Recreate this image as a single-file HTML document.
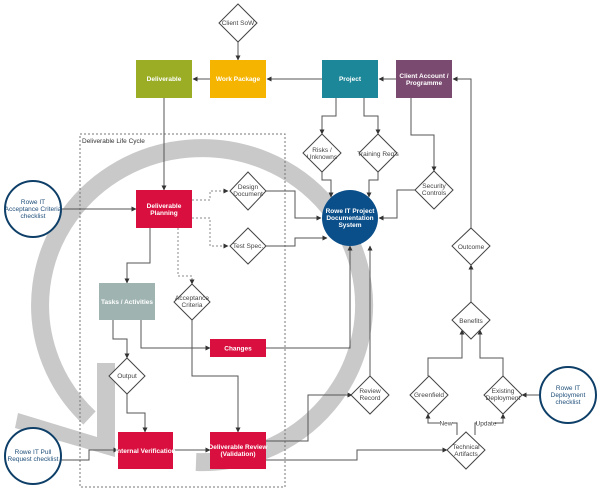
<!DOCTYPE html>
<html><head><meta charset="utf-8"><style>
body{margin:0;background:#fff;}
svg{display:block;font-family:"Liberation Sans",sans-serif;}
.ln{fill:none;stroke:#555;stroke-width:1;}
.dt{fill:none;stroke:#888;stroke-width:1;stroke-dasharray:2,2;}
.dm{fill:#fff;stroke:#444;stroke-width:1;}
.t{font-size:6.5px;fill:#444;text-anchor:middle;}
.w{font-size:6.5px;fill:#fff;font-weight:bold;text-anchor:middle;}
.b{font-size:6.5px;fill:#1f4f7a;text-anchor:middle;}
</style></head><body>
<svg width="602" height="502" viewBox="0 0 602 502">
<defs><marker id="a" markerWidth="5" markerHeight="5" refX="4.5" refY="2.5" orient="auto"><path d="M0,0 L5,2.5 L0,5z" fill="#333"/></marker></defs>
<!-- cycle arc -->
<g fill="#c9c9c9">
<path d="M196,462 A162,157 0 1 0 89.5,418" fill="none" stroke="#c9c9c9" stroke-width="18"/>
<polygon points="97,363 115,363 115,457 15,428 18,413 97,437"/>
</g>
<rect x="80" y="134" width="205" height="353" fill="none" stroke="#777" stroke-dasharray="2,2"/>
<text x="82" y="143" font-size="6.5" fill="#333">Deliverable Life Cycle</text>
<!-- connectors -->
<g>
<path class="ln" marker-end="url(#a)" d="M238,42 V60"/>
<path class="ln" marker-end="url(#a)" d="M210,79 H193"/>
<path class="ln" marker-end="url(#a)" d="M322,79 H267"/>
<path class="ln" marker-end="url(#a)" d="M396,79 H379"/>
<path class="ln" marker-end="url(#a)" d="M164,98 V190"/>
<path class="ln" marker-end="url(#a)" d="M61,209 H136"/>
<path class="dt" marker-end="url(#a)" d="M192,200 H210 V191 H228"/>
<path class="dt" marker-end="url(#a)" d="M192,218 H210 V246 H228"/>
<path class="dt" marker-end="url(#a)" d="M178,228 V276 H192 V284"/>
<path class="ln" marker-end="url(#a)" d="M150,228 V263 H127 V283"/>
<path class="ln" marker-end="url(#a)" d="M266,191 H295 V218 H321"/>
<path class="ln" marker-end="url(#a)" d="M266,246 H295 V238 H327"/>
<path class="ln" marker-end="url(#a)" d="M336,98 V116 H322 V134"/>
<path class="ln" marker-end="url(#a)" d="M364,98 V116 H378 V134"/>
<path class="ln" marker-end="url(#a)" d="M322,172 V180 H331 V197"/>
<path class="ln" marker-end="url(#a)" d="M378,172 V180 H369 V197"/>
<path class="ln" marker-end="url(#a)" d="M411,98 V135 H434 V171"/>
<path class="ln" marker-end="url(#a)" d="M415,190 H397 V218 H379"/>
<path class="ln" marker-end="url(#a)" d="M471,228 V79 H453"/>
<path class="ln" marker-end="url(#a)" d="M471,302 V265"/>
<path class="ln" marker-end="url(#a)" d="M428,376 V358 H462 V330"/>
<path class="ln" marker-end="url(#a)" d="M503,376 V358 H480 V330"/>
<path class="ln" marker-end="url(#a)" d="M540,395 H522"/>
<path class="ln" marker-end="url(#a)" d="M457,435 V423 H428 V414"/>
<path class="ln" marker-end="url(#a)" d="M475,435 V423 H503 V414"/>
<path class="ln" marker-end="url(#a)" d="M113,320 V339 H127 V358"/>
<path class="ln" marker-end="url(#a)" d="M141,320 V348 H210"/>
<path class="ln" marker-end="url(#a)" d="M266,348 H350 V246"/>
<path class="ln" marker-end="url(#a)" d="M192,320 V376 H238 V432"/>
<path class="ln" marker-end="url(#a)" d="M127,394 V413 H145 V432"/>
<path class="ln" marker-end="url(#a)" d="M61,460 H89 V450 H118"/>
<path class="ln" marker-end="url(#a)" d="M173,450 H210"/>
<path class="ln" marker-end="url(#a)" d="M266,441 H308 V395 H352"/>
<path class="ln" marker-end="url(#a)" d="M266,460 H357 V450 H447"/>
<path class="ln" marker-end="url(#a)" d="M370,376 V246"/>
</g>
<rect x="440" y="420" width="12" height="7" fill="#fff"/><text x="446" y="425.5" class="t" font-size="5.5">New</text>
<rect x="477" y="420" width="18" height="7" fill="#fff"/><text x="486" y="425.5" class="t" font-size="5.5">Update</text>
<!-- boxes -->
<g><rect x="136" y="60" width="56" height="38" fill="#9aad25"/><text x="164" y="81" class="w">Deliverable</text></g>
<g><rect x="210" y="60" width="56" height="38" fill="#f5b400"/><text x="238" y="81" class="w">Work Package</text></g>
<g><rect x="322" y="60" width="56" height="38" fill="#1b8799"/><text x="350" y="81" class="w">Project</text></g>
<g><rect x="396" y="60" width="56" height="38" fill="#7b4a70"/><text x="424" y="78" class="w">Client Account /</text><text x="424" y="85" class="w">Programme</text></g>
<g><rect x="136" y="190" width="56" height="38" fill="#d9103f"/><text x="164" y="208" class="w">Deliverable</text><text x="164" y="215" class="w">Planning</text></g>
<g><rect x="99" y="283" width="56" height="37" fill="#9fb4b1"/><text x="127" y="304" class="w">Tasks / Activities</text></g>
<g><rect x="210" y="339" width="56" height="18" fill="#d9103f"/><text x="238" y="350.5" class="w">Changes</text></g>
<g><rect x="118" y="432" width="55" height="37" fill="#d9103f"/><text x="145.5" y="453" class="w">Internal Verification</text></g>
<g><rect x="210" y="432" width="56" height="37" fill="#d9103f"/><text x="238" y="449" class="w">Deliverable Review</text><text x="238" y="456" class="w">(Validation)</text></g>
<!-- diamonds -->
<g><path class="dm" d="M238,4 L257,23 L238,42 L219,23z"/><text x="238" y="25" class="t">Client SoW</text></g>
<g><path class="dm" d="M248,172 L266,191 L248,210 L230,191z"/><text x="248" y="189" class="t">Design</text><text x="248" y="196" class="t">Document</text></g>
<g><path class="dm" d="M248,228 L266,246 L248,264 L230,246z"/><text x="248" y="248" class="t">Test Spec.</text></g>
<g><path class="dm" d="M192,284 L210,302 L192,320 L174,302z"/><text x="192" y="300" class="t">Acceptance</text><text x="192" y="307" class="t">Criteria</text></g>
<g><path class="dm" d="M127,358 L145,376 L127,394 L109,376z"/><text x="127" y="378" class="t">Output</text></g>
<g><path class="dm" d="M322,134 L341,153 L322,172 L303,153z"/><text x="322" y="152" class="t">Risks /</text><text x="322" y="159" class="t">Unknowns</text></g>
<g><path class="dm" d="M378,134 L397,153 L378,172 L359,153z"/><text x="378" y="156" class="t">Training Req's</text></g>
<g><path class="dm" d="M434,171 L453,190 L434,209 L415,190z"/><text x="434" y="188" class="t">Security</text><text x="434" y="195" class="t">Controls</text></g>
<g><path class="dm" d="M471,228 L490,246 L471,265 L452,246z"/><text x="471" y="249" class="t">Outcome</text></g>
<g><path class="dm" d="M471,302 L490,320 L471,339 L452,320z"/><text x="471" y="323" class="t">Benefits</text></g>
<g><path class="dm" d="M429,376 L448,395 L429,414 L410,395z"/><text x="429" y="397" class="t">Greenfield</text></g>
<g><path class="dm" d="M503,376 L522,395 L503,414 L484,395z"/><text x="503" y="393" class="t">Existing</text><text x="503" y="400" class="t">Deployment</text></g>
<g><path class="dm" d="M466,432 L485,450 L466,469 L447,450z"/><text x="466" y="449" class="t">Technical</text><text x="466" y="456" class="t">Artifacts</text></g>
<g><path class="dm" d="M370,376 L389,395 L370,414 L351,395z"/><text x="370" y="393" class="t">Review</text><text x="370" y="400" class="t">Record</text></g>
<!-- circles -->
<g><circle cx="350" cy="218" r="28" fill="#0b4f8a"/><text x="350" y="213" class="w">Rowe IT Project</text><text x="350" y="220" class="w">Documentation</text><text x="350" y="227" class="w">System</text></g>
<g><circle cx="33" cy="209" r="28" fill="#fff" stroke="#0e3f68" stroke-width="2"/><text x="33" y="204" class="b">Rowe IT</text><text x="33" y="211" class="b">Acceptance Criteria</text><text x="33" y="218" class="b">checklist</text></g>
<g><circle cx="33" cy="456" r="28" fill="#fff" stroke="#0e3f68" stroke-width="2"/><text x="33" y="454" class="b">Rowe IT Pull</text><text x="33" y="461" class="b">Request checklist</text></g>
<g><circle cx="568" cy="395" r="28" fill="#fff" stroke="#0e3f68" stroke-width="2"/><text x="568" y="390" class="b">Rowe IT</text><text x="568" y="397" class="b">Deployment</text><text x="568" y="404" class="b">checklist</text></g>
</svg>
</body></html>
